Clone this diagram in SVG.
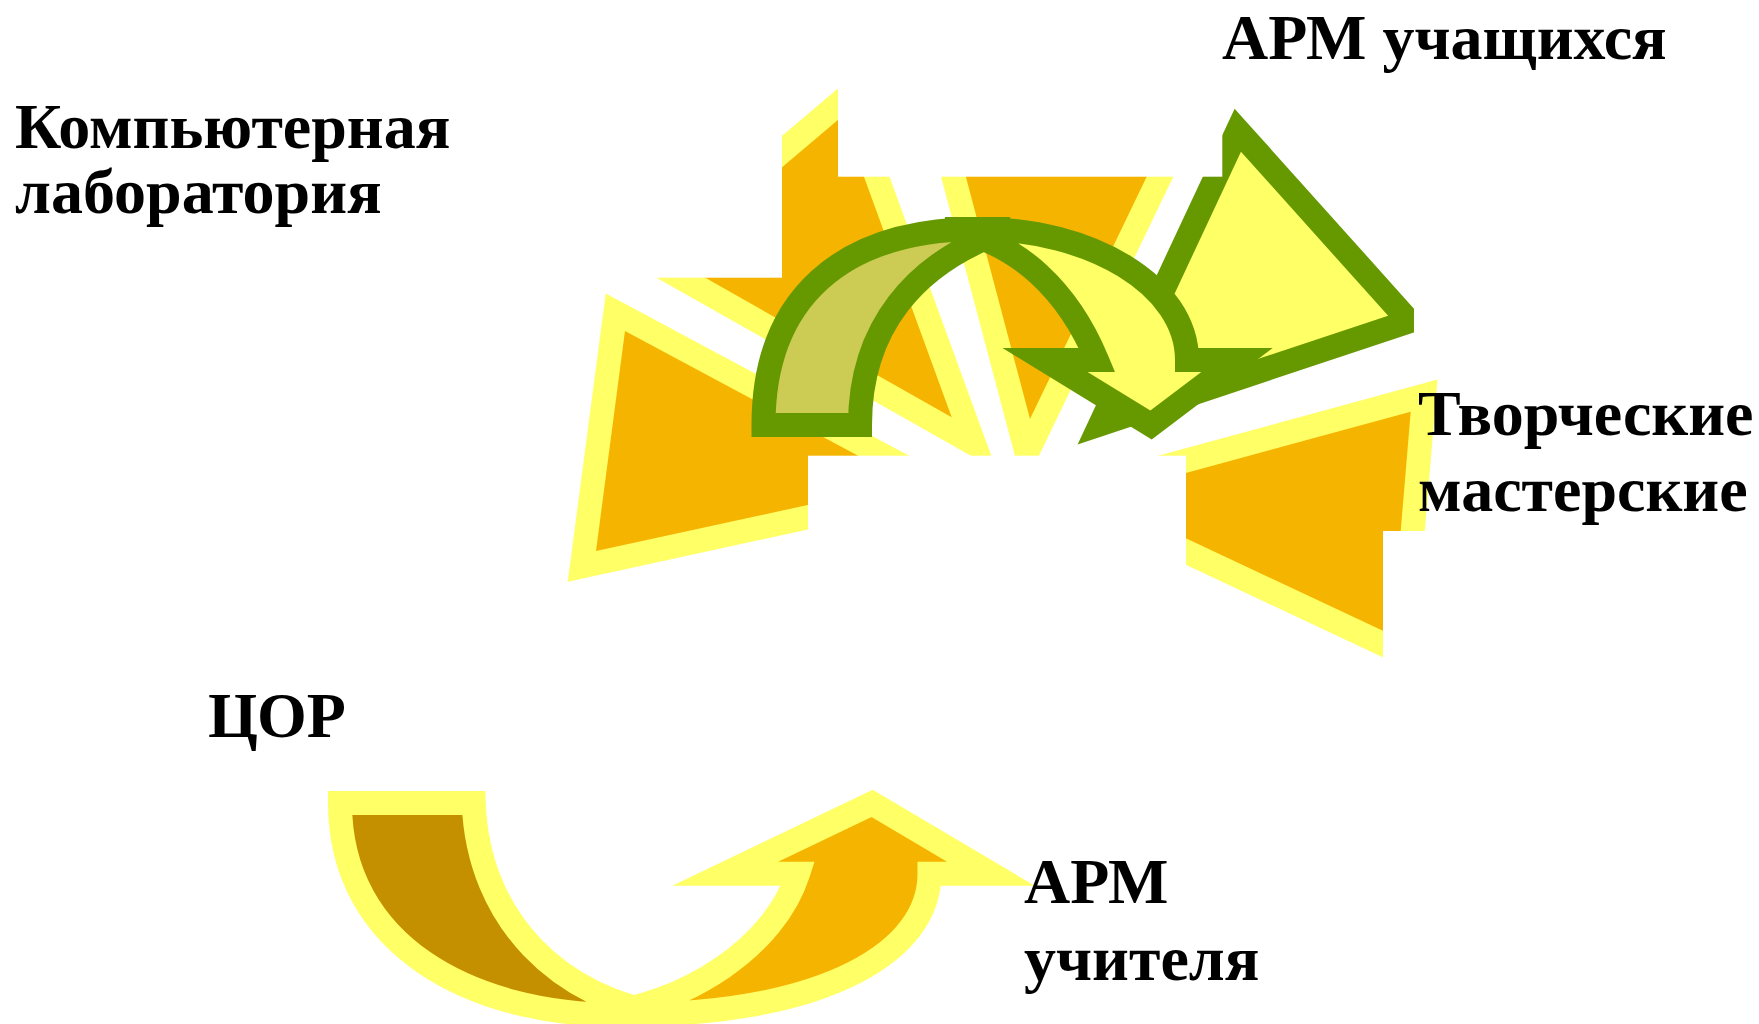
<svg xmlns="http://www.w3.org/2000/svg" width="1759" height="1024" viewBox="0 0 1759 1024">
<style>
.lbl{font-family:"Liberation Serif","Times New Roman",serif;font-weight:bold;font-size:64px;fill:#000000}
.rayStroke{fill:none;stroke:#FFFF66;stroke-width:48;stroke-linejoin:miter;stroke-miterlimit:10}
.rayFill{fill:#F5B400;stroke:none}
.mask{fill:#FFFFFF;stroke:none}
.g{stroke:#669900;stroke-width:24;stroke-linejoin:miter;stroke-miterlimit:10}
.g4{stroke:#669900;stroke-width:24;stroke-linejoin:miter;stroke-miterlimit:4}
.y{stroke:#FFFF66;stroke-width:24;stroke-linejoin:miter;stroke-miterlimit:10}
</style>
<defs>
<g id="rays">
<polygon points="625,331 596,551 909,483"/>
<polygon points="951.7,417.3 673,259.5 842,116.6"/>
<polygon points="1030,419 953.5,130 1169.2,130"/>
<polygon points="1410.7,411.7 1392,635 1098,497"/>
</g>
</defs>
<rect x="0" y="0" width="1759" height="1024" fill="#FFFFFF"/>
<g id="burst">
<use href="#rays" class="rayStroke"/>
<use href="#rays" class="rayFill"/>
</g>
<g id="arrow-students">
<polygon class="g" fill="#FFFF66" points="1237.8,130.2 1409.2,321.3 1100.3,424.2"/>
</g>
<g id="masks">
<rect class="mask" x="0" y="100" width="782" height="177.7"/>
<rect class="mask" x="838" y="40" width="384.3" height="136.7"/>
<rect class="mask" x="808" y="455.7" width="378" height="300"/>
<rect class="mask" x="1383" y="531" width="376" height="230"/>
<rect class="mask" x="1414" y="270" width="345" height="75"/>
</g>
<g id="connectors">
<g id="curved-arrow-top">
<path class="g4" fill="#CCCC55" d="M763.5,425 C763.5,300 840,229 980,229 L1010,229 C912,262 860,330 860,425 Z"/>
<path class="g" fill="#FFFF66" d="M945,229 L980,229 C1090,229 1187,285 1187,360 L1237,360 L1151,425 L1045,360 L1097,360 C1070,295 1020,240 945,229 Z"/>
</g>
<g id="curved-arrow-bottom">
<path class="y" fill="#C49000" d="M340,803 L473.7,803 C478,920 560,1000 670,1015 L620,1015 C470,1015 340,945 340,803 Z"/>
<path class="y" fill="#F5B400" d="M590,1015 C690,1005 775,945 798,873.7 L725.2,873.7 L872.1,803.4 L990.8,873.7 L929.5,873.7 C929.5,950 830,1015 620,1015 Z"/>
</g>
</g>
<g id="label-lab">
<text class="lbl" x="15" y="148">Компьютерная</text>
<text class="lbl" x="15" y="213">лаборатория</text>
</g>
<g id="label-students">
<text class="lbl" x="1222" y="59">АРМ учащихся</text>
</g>
<g id="label-workshops">
<text class="lbl" x="1418" y="435">Творческие</text>
<text class="lbl" x="1418" y="511">мастерские</text>
</g>
<g id="label-cor">
<text class="lbl" x="208" y="737">ЦОР</text>
</g>
<g id="label-teacher">
<text class="lbl" x="1024" y="903">АРМ</text>
<text class="lbl" x="1024" y="980">учителя</text>
</g>
</svg>
